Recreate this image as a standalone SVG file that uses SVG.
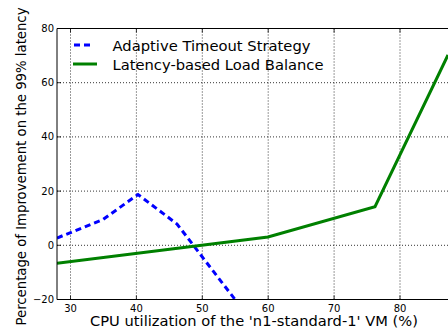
<svg xmlns="http://www.w3.org/2000/svg" width="448" height="334" viewBox="0 0 448 334">
<style>
text{font-family:"DejaVu Sans","Liberation Sans",sans-serif;fill:#000}
.tick{font-size:10px}
.lab{font-size:14.7px}
.grid{stroke:#000;stroke-width:0.8;stroke-dasharray:1 2;fill:none}
.spine{stroke:#000;stroke-width:1;fill:none}
.tk{stroke:#000;stroke-width:0.8}
.blue{stroke:#0000ff;stroke-width:3;fill:none;stroke-dasharray:6 4}
.green{stroke:#008000;stroke-width:3;fill:none}
</style>
<defs>
<clipPath id="plot"><rect x="57" y="28.5" width="391" height="271"/></clipPath>
</defs>
<rect width="448" height="334" fill="#fff"/>
<g id="grid">
<path class="grid" d="M70.5 28.5V299.5M136.4 28.5V299.5M202.3 28.5V299.5M268.2 28.5V299.5M334.1 28.5V299.5M400 28.5V299.5"/>
<path class="grid" d="M57 82.7H448M57 136.9H448M57 191.1H448M57 245.3H448"/>
</g>
<g id="ticks">
<path class="tk" d="M70.5 299.5v-4M136.4 299.5v-4M202.3 299.5v-4M268.2 299.5v-4M334.1 299.5v-4M400 299.5v-4M70.5 28.5v4M136.4 28.5v4M202.3 28.5v4M268.2 28.5v4M334.1 28.5v4M400 28.5v4"/>
<path class="tk" d="M57 82.7h4M57 136.9h4M57 191.1h4M57 245.3h4"/>
</g>
<g id="connectors" clip-path="url(#plot)">
<polyline id="adaptive" class="blue" points="57,238 103,219.5 138,194.5 177,224 240,306"/>
<polyline id="latency" class="green" points="57,263.3 268,237 375,206.7 448,55"/>
</g>
<g id="axes">
<path class="spine" d="M448 28.5H57V299.5H448"/>
</g>
<g id="yticks" class="tick" text-anchor="end">
<text x="54" y="32">80</text>
<text x="54" y="86.2">60</text>
<text x="54" y="140.4">40</text>
<text x="54" y="194.6">20</text>
<text x="54" y="248.8">0</text>
<text x="54" y="303">−20</text>
</g>
<g id="xticks" class="tick" text-anchor="middle">
<text x="70.5" y="311.5">30</text>
<text x="136.4" y="311.5">40</text>
<text x="202.3" y="311.5">50</text>
<text x="268.2" y="311.5">60</text>
<text x="334.1" y="311.5">70</text>
<text x="400" y="311.5">80</text>
</g>
<g id="xlabel"><text class="lab" x="254" y="326" text-anchor="middle" textLength="328" lengthAdjust="spacingAndGlyphs">CPU utilization of the 'n1-standard-1' VM (%)</text></g>
<g id="ylabel"><text class="lab" style="font-size:13.4px" transform="translate(25.5,166.5) rotate(-90)" text-anchor="middle" textLength="318" lengthAdjust="spacingAndGlyphs">Percentage of Improvement on the 99% latency</text></g>
<g id="legend">
<path class="blue" d="M74 45H94" stroke-dasharray="7 3"/>
<path class="green" d="M73 64H97"/>
<text class="lab" x="112.5" y="50.5" textLength="198" lengthAdjust="spacingAndGlyphs">Adaptive Timeout Strategy</text>
<text class="lab" x="112.5" y="69.5" textLength="211" lengthAdjust="spacingAndGlyphs">Latency-based Load Balance</text>
</g>
</svg>
